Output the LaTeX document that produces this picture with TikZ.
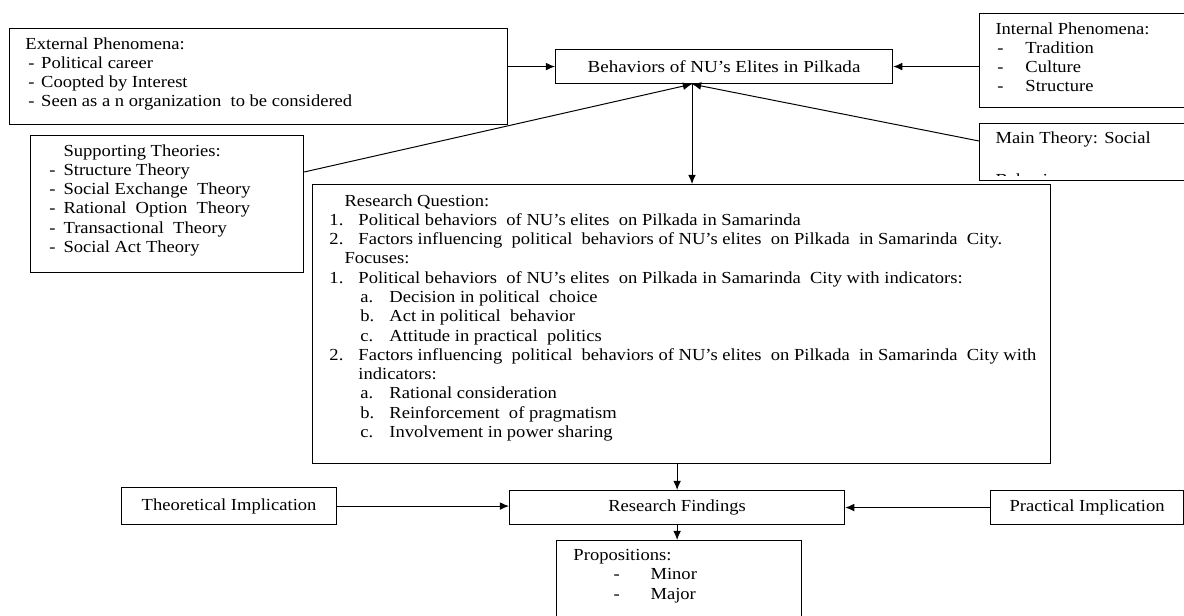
\documentclass[tikz,border=0pt]{standalone}
\usepackage{fontspec}
\setmainfont{Liberation Serif}[FakeStretch=1.10]
\newfontfamily\titlefont{Liberation Serif}[FakeStretch=1.13]
\usetikzlibrary{arrows.meta,calc}

% list entry: indent, label box width, label
\newcommand{\mkitem}[3]{\hspace*{#1}\makebox[#2][l]{#3}}

\begin{document}
\begin{tikzpicture}[x=0.025cm, y=-0.025cm, line width=0.7pt,
  font=\fontsize{12}{13.7}\selectfont,
  box/.style={draw, line width=0.8pt, inner sep=0pt, anchor=north west},
  txt/.style={anchor=north west, inner sep=0pt, align=left},
  >={Latex[length=6.5pt,width=5.5pt]}]
  \useasboundingbox (0,0) rectangle (1184,616);

  % boxes
  \node[box, minimum width=12.45cm, minimum height=2.4cm] (ext) at (9,28) {};
  \node[box, minimum width=8.425cm, minimum height=0.85cm] (beh) at (555,49) {\titlefont Behaviors of NU’s Elites in Pilkada};
  \node[box, minimum width=5.4cm, minimum height=2.35cm] (intl) at (979,13) {};
  \node[box, minimum width=5.4cm, minimum height=1.425cm] (main) at (979,123) {};
  \node[box, minimum width=6.825cm, minimum height=3.425cm] (supp) at (30,135) {};
  \node[box, minimum width=18.45cm, minimum height=6.975cm] (rq) at (312,184) {};
  \node[box, minimum width=5.375cm, minimum height=0.925cm] (theo) at (121,487) {Theoretical Implication};
  \node[box, minimum width=8.375cm, minimum height=0.85cm] (find) at (509,490) {Research Findings};
  \node[box, minimum width=4.825cm, minimum height=0.85cm] (prac) at (990,490) {Practical Implication};
  \node[box, minimum width=6.125cm, minimum height=2.125cm] (prop) at (556,540) {};

  % texts in the boxes
  \node[txt] (extT) at (25,37) {External Phenomena:\\
    \mkitem{2pt}{9.2pt}{-}Political career\\
    \mkitem{2pt}{9.2pt}{-}Coopted by Interest\\
    \mkitem{2pt}{9.2pt}{-}Seen as a n organization\ \ to be considered};
  \node[txt] (intlT) at (995,22) {Internal Phenomena:\\
    \mkitem{1.4pt}{19.9pt}{-}Tradition\\
    \mkitem{1.4pt}{19.9pt}{-}Culture\\
    \mkitem{1.4pt}{19.9pt}{-}Structure};
  \node[txt] (mainT) at (995,131) {Main Theory: Social};
  \begin{scope}
    \clip (979,123) rectangle (1184,176);
    \node[txt] (mainB) at (995,173) {Behavior};
  \end{scope}
  \node[txt] (suppT) at (49,144) {\hspace*{10pt}Supporting Theories:\\
    \mkitem{0pt}{10pt}{-}Structure Theory\\
    \mkitem{0pt}{10pt}{-}Social Exchange\ \ Theory\\
    \mkitem{0pt}{10pt}{-}Rational\ \ Option\ \ Theory\\
    \mkitem{0pt}{10pt}{-}Transactional\ \ Theory\\
    \mkitem{0pt}{10pt}{-}Social Act Theory};
  \node[txt] (rqT) at (329,194) {\hspace*{10.7pt}Research Question:\\
    \mkitem{0pt}{20.6pt}{1.}Political behaviors\ \ of NU’s elites\ \ on Pilkada in Samarinda\\
    \mkitem{0pt}{20.6pt}{2.}Factors influencing\ \ political\ \ behaviors of NU’s elites\ \ on Pilkada\ \ in Samarinda\ \ City.\\
    \hspace*{10.7pt}Focuses:\\
    \mkitem{0pt}{20.6pt}{1.}Political behaviors\ \ of NU’s elites\ \ on Pilkada in Samarinda\ \ City with indicators:\\
    \mkitem{22pt}{20.6pt}{a.}Decision in political\ \ choice\\
    \mkitem{22pt}{20.6pt}{b.}Act in political\ \ behavior\\
    \mkitem{22pt}{20.6pt}{c.}Attitude in practical\ \ politics\\
    \mkitem{0pt}{20.6pt}{2.}Factors influencing\ \ political\ \ behaviors of NU’s elites\ \ on Pilkada\ \ in Samarinda\ \ City with\\
    \hspace*{20.6pt}indicators:\\
    \mkitem{22pt}{20.6pt}{a.}Rational consideration\\
    \mkitem{22pt}{20.6pt}{b.}Reinforcement\ \ of pragmatism\\
    \mkitem{22pt}{20.6pt}{c.}Involvement in power sharing};
  \node[txt] (propT) at (573,549) {Propositions:\\
    \mkitem{28.5pt}{26.3pt}{-}Minor\\
    \mkitem{28.5pt}{26.3pt}{-}Major};

  % connectors
  \coordinate (j) at ($(beh.south west)+(137,0)$);
  \draw[->] (ext.east |- beh.west) -- (beh.west);
  \draw[->] (intl.west |- beh.east) -- (beh.east);
  \draw[->] ($(supp.north east)+(0,37)$) -- (j);
  \draw[->] ($(main.north west)+(0,18)$) -- (j);
  \draw[->] (j) -- (j |- rq.north);
  \draw[->] (rq.south -| find.north) -- (find.north);
  \draw[->] (find.south) -- (find.south |- prop.north);
  \draw[->] (theo.east) -- (theo.east -| find.west);
  \draw[->] (prac.west) -- (prac.west -| find.east);
\end{tikzpicture}
\end{document}
